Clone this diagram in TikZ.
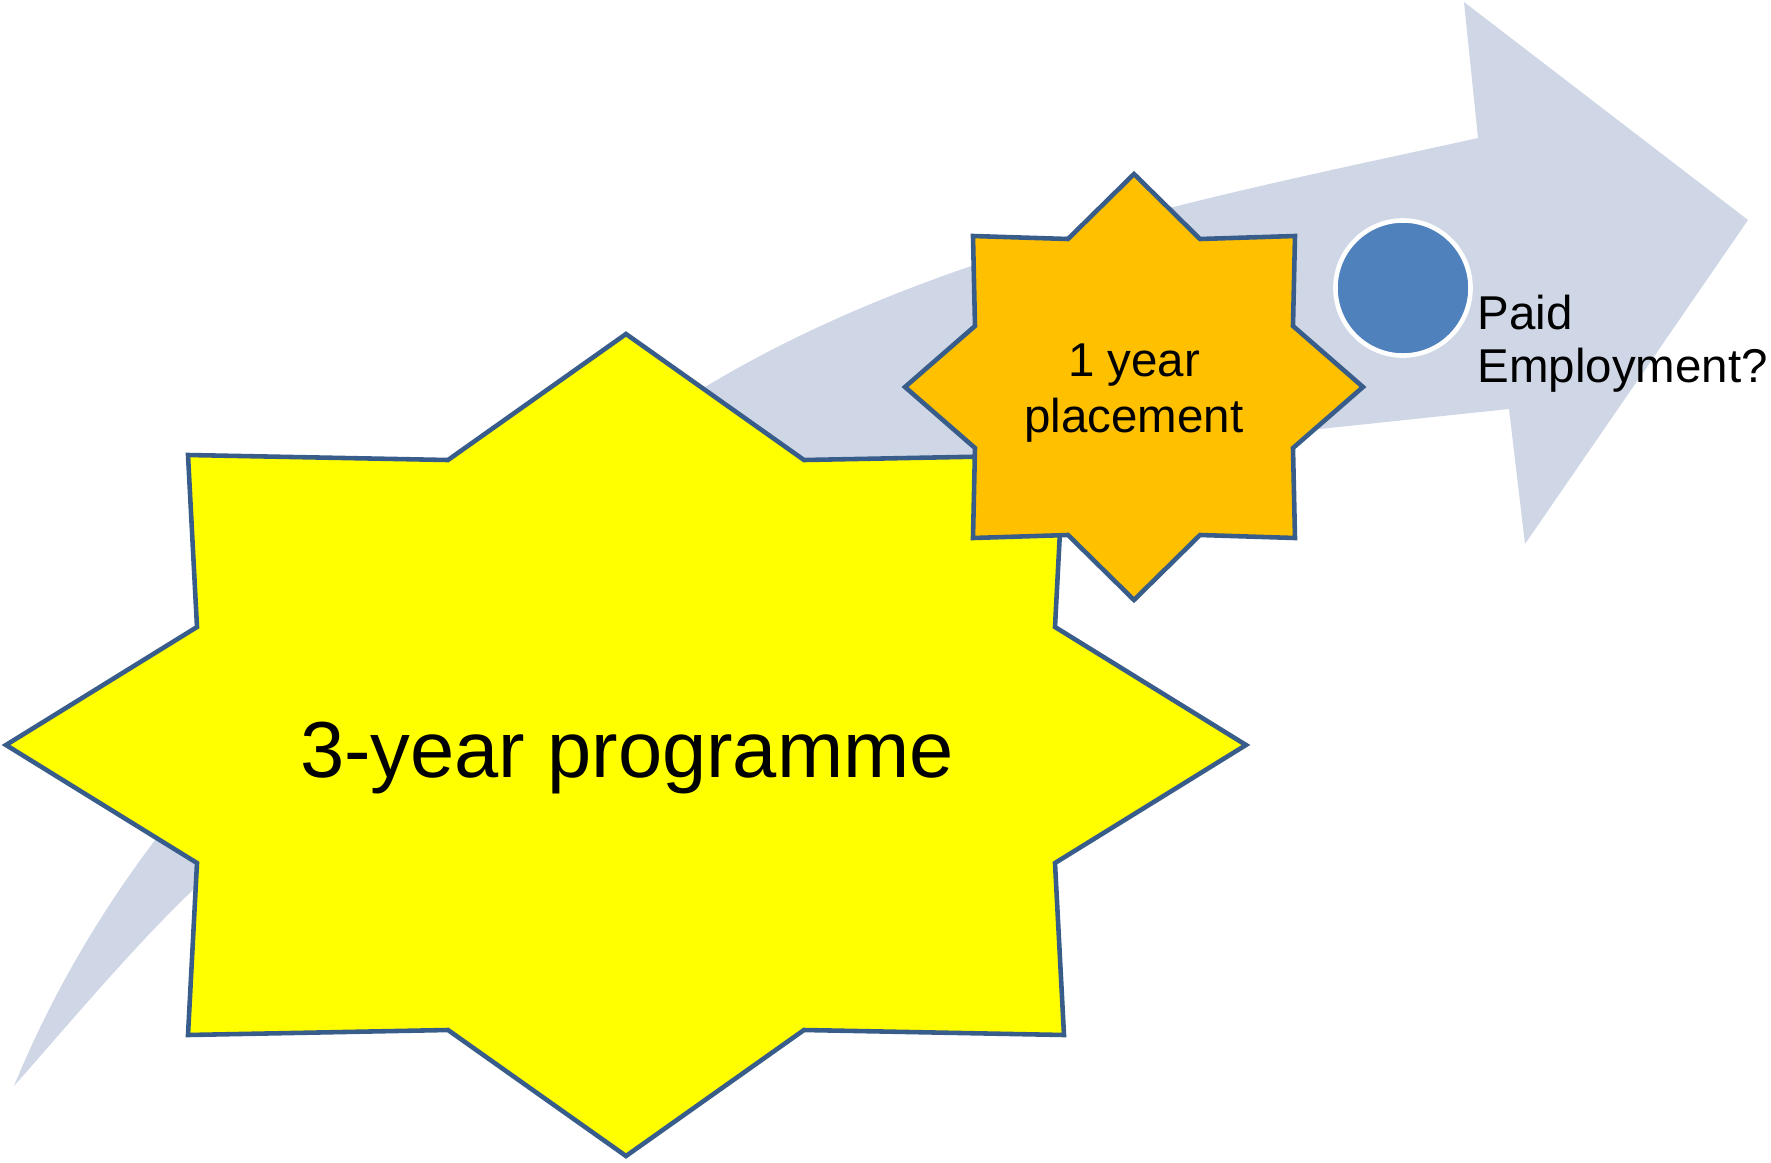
\documentclass[tikz,border=0pt]{standalone}
\usepackage{fontspec}
\setmainfont{Liberation Sans}
\usepackage{tikz}

\definecolor{arrowgray}{RGB}{207,215,230}
\definecolor{starline}{RGB}{56,93,138}
\definecolor{staryellow}{RGB}{255,255,0}
\definecolor{starorange}{RGB}{255,192,0}
\definecolor{dotblue}{RGB}{79,129,189}

\begin{document}
\begin{tikzpicture}[x=0.01cm,y=-0.01cm,
    starbox/.style={draw=starline, line width=1.3pt, line join=miter},
    label/.style={inner sep=0pt, text=black}]

  \useasboundingbox (0,0) rectangle (1771,1163);

  % big curved arrow in the back
  \fill[arrowgray] (14,1086) .. controls (166,716) and (491,516) .. (705,387)
    .. controls (936,248) and (1215,196) .. (1478,138)
    -- (1464,2) -- (1748,220) -- (1525,544) -- (1509,409) -- (1320,429)
    .. controls (922,471) and (410,683) .. (193,890)
    .. controls (135,945) and (67,1026) .. (14,1086) -- cycle;

  % the two stars
  \begin{scope}[shift={(626,745)}]
    \filldraw[starbox, fill=staryellow] (0,-411) -- (178,-285) -- (438,-290) -- (429,-118)
      -- (620,0) -- (429,118) -- (438,290) -- (178,285) -- (0,411) -- (-178,285)
      -- (-438,290) -- (-429,118) -- (-620,0) -- (-429,-118) -- (-438,-290)
      -- (-178,-285) -- cycle;
  \end{scope}
  \begin{scope}[shift={(1134,387)}]
    \filldraw[starbox, fill=starorange] (0,-213) -- (66,-148) -- (161,-151) -- (159,-61)
      -- (229,0) -- (159,61) -- (161,151) -- (66,148) -- (0,213) -- (-66,148)
      -- (-161,151) -- (-159,61) -- (-229,0) -- (-159,-61) -- (-161,-151)
      -- (-66,-148) -- cycle;
  \end{scope}

  \node[circle, fill=dotblue, draw=white, line width=1.3pt, minimum size=1.35cm,
        inner sep=0pt] (dot) at (1403,288) {};

  \node[label, anchor=base, font=\fontsize{22.6}{27}\selectfont] (prog) at (627,777)
    {3-year programme};
  \node[label, align=center, font=\fontsize{13.5}{15.8}\selectfont] (place) at (1134,393)
    {1 year\\placement};
  \node[label, align=left, anchor=west, font=\fontsize{13.5}{15.1}\selectfont] (job)
    at (1477,344) {Paid\\Employment?};

\end{tikzpicture}
\end{document}
